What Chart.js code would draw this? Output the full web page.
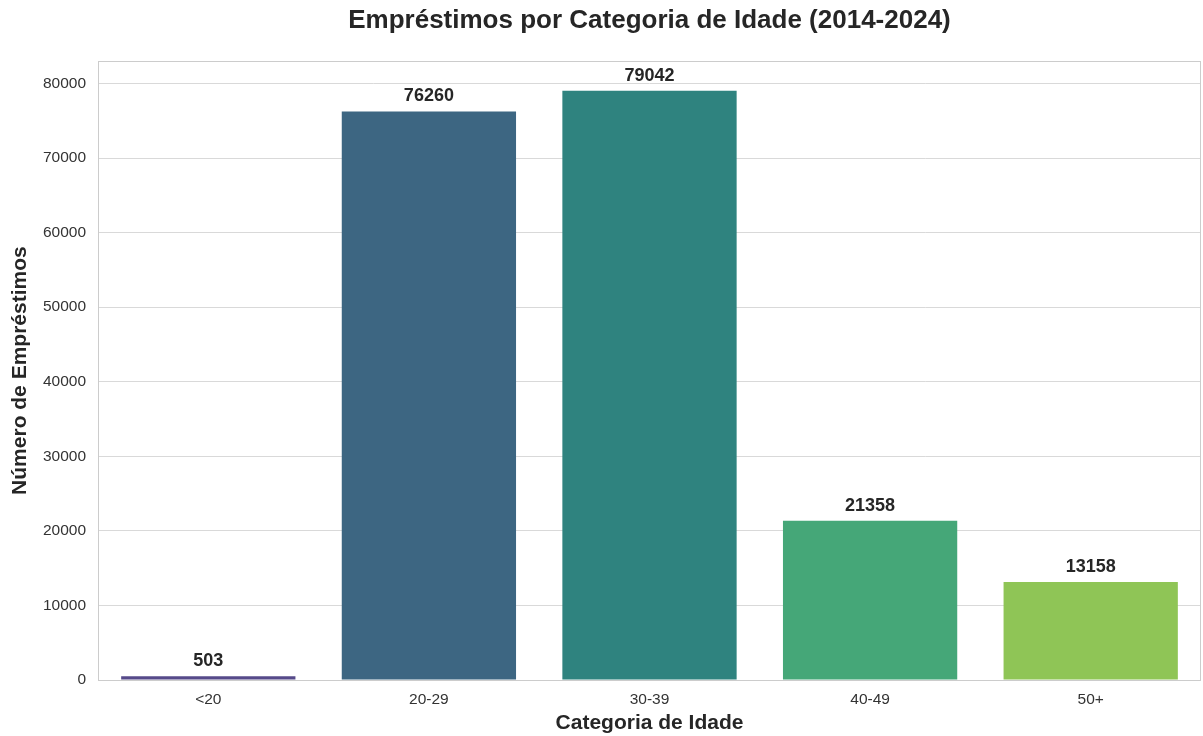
<!DOCTYPE html>
<html>
<head>
<meta charset="utf-8">
<script src="https://cdn.jsdelivr.net/npm/chart.js@4"></script>
<style>
  html, body { margin: 0; padding: 0; background: #fff; }
  #wrap { width: 1203px; height: 736px; }
</style>
</head>
<body>
<div id="wrap"><canvas id="chart" width="1203" height="736"></canvas></div>
<script>
// data
var categories = ['<20', '20-29', '30-39', '40-49', '50+']
var loans = [503, 76260, 79042, 21358, 13158]
var yTicks = [0, 10000, 20000, 30000, 40000, 50000, 60000, 70000, 80000]
var barColors = ['#564a8a', '#3d6682', '#2f837f', '#45a778', '#8fc556']
var yMax = 82994
var chartTitle = 'Empréstimos por Categoria de Idade (2014-2024)'

var font = "'Liberation Sans', Arial, sans-serif"

// value labels above each bar
var valueLabels = {
    id: 'valueLabels',
    afterDatasetsDraw(chart) {
        var ctx = chart.ctx
        var meta = chart.getDatasetMeta(0)
        ctx.save()
        ctx.font = 'bold 18px ' + font
        ctx.fillStyle = '#262626'
        ctx.textAlign = 'center'
        ctx.textBaseline = 'alphabetic'
        meta.data.forEach((bar, i) => {
            ctx.fillText(String(loans[i]), bar.x, bar.y - 10)
        })
        ctx.restore()
    }
}

// frame around plot area + title centred over the axes
var frame = {
    id: 'frame',
    beforeDatasetsDraw(chart) {
        var a = chart.chartArea
        var ctx = chart.ctx
        ctx.save()
        ctx.strokeStyle = '#cccccc'
        ctx.lineWidth = 1
        ctx.strokeRect(Math.round(a.left) + 0.5, Math.round(a.top) + 0.5, Math.round(a.right - a.left) - 1, Math.round(a.bottom - a.top))
        ctx.restore()
    },
    afterDraw(chart) {
        var a = chart.chartArea
        var ctx = chart.ctx
        ctx.save()
        ctx.font = 'bold 26px ' + font
        ctx.fillStyle = '#262626'
        ctx.textAlign = 'center'
        ctx.textBaseline = 'middle'
        ctx.fillText(chartTitle, (a.left + a.right) / 2, 21)
        ctx.restore()
    }
}

var ctx = document.getElementById('chart').getContext('2d')
var myChart = new Chart(ctx, {
    type: 'bar',
    data: {
        labels: categories,
        datasets: [{
            data: loans,
            backgroundColor: barColors,
            borderWidth: 0,
            barPercentage: 0.79,
            categoryPercentage: 1.0
        }]
    },
    options: {
        responsive: false,
        animation: false,
        layout: { padding: { top: 0, right: 2, bottom: 0, left: 0 } },
        plugins: {
            legend: { display: false },
            tooltip: { enabled: false },
            title: {
                // keeps the space, text is drawn by the frame plugin
                display: true,
                text: chartTitle,
                color: 'rgba(0,0,0,0)',
                font: { family: font, size: 26, weight: 'bold' },
                padding: { top: 5, bottom: 25 }
            }
        },
        scales: {
            x: {
                grid: { display: false, drawTicks: false },
                border: { display: false },
                ticks: {
                    color: '#333333',
                    font: { family: font, size: 15.5 },
                    padding: 10
                },
                title: {
                    display: true,
                    text: 'Categoria de Idade',
                    color: '#262626',
                    font: { family: font, size: 21, weight: 'bold' },
                    padding: { top: 0, bottom: 0 }
                },
                afterFit(scale) { scale.height = 56 }
            },
            y: {
                min: 0,
                max: yMax,
                grid: { color: '#d9d9d9', lineWidth: 1, drawTicks: false },
                border: { display: false },
                afterBuildTicks(scale) {
                    scale.ticks = yTicks.map(v => ({ value: v }))
                },
                ticks: {
                    color: '#333333',
                    font: { family: font, size: 15.5 },
                    padding: 12,
                    callback: (v) => String(v)
                },
                title: {
                    display: true,
                    text: 'Número de Empréstimos',
                    color: '#262626',
                    font: { family: font, size: 21, weight: 'bold' },
                    padding: { top: 8, bottom: 0 }
                },
                afterFit(scale) { scale.width = 98 }
            }
        }
    },
    plugins: [frame, valueLabels]
})
</script>
</body>
</html>
